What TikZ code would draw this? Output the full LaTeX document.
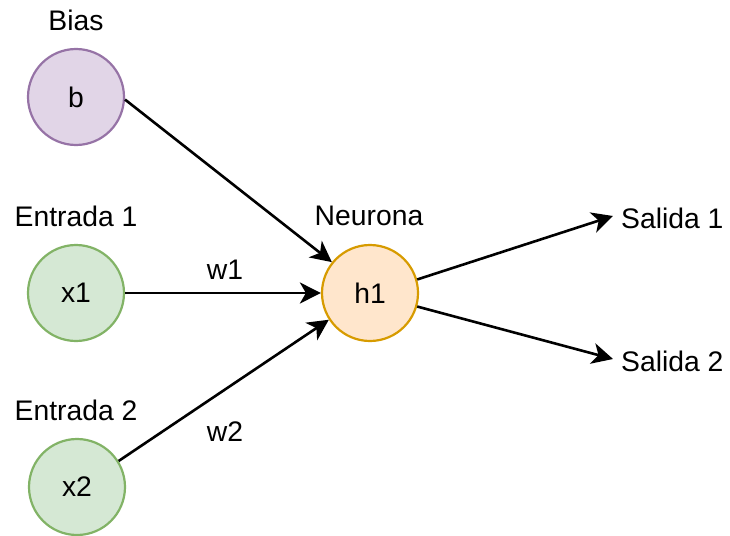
\documentclass[tikz,border=0pt]{standalone}
\usepackage{fontspec}
\setmainfont{Liberation Sans}
\usetikzlibrary{arrows.meta}
\definecolor{biasfill}{HTML}{E1D5E7}
\definecolor{biasline}{HTML}{9673A6}
\definecolor{infill}{HTML}{D5E8D4}
\definecolor{inline}{HTML}{82B366}
\definecolor{neufill}{HTML}{FFE6CC}
\definecolor{neuline}{HTML}{D79B00}
\begin{document}
\begin{tikzpicture}[x=1pt,y=-1pt,
  font=\fontsize{28.3}{33}\selectfont,
  unit/.style={circle,minimum size=96pt,inner sep=0pt,line width=2.2pt},
  biasunit/.style={unit,draw=biasline,fill=biasfill},
  inunit/.style={unit,draw=inline,fill=infill},
  neuunit/.style={unit,draw=neuline,fill=neufill},
  caption/.style={inner sep=0pt},
  link/.style={line width=2.6pt,-{Stealth[length=21pt,width=21pt,inset=6pt]}}]
\useasboundingbox (0,0) rectangle (730,535);

% units
\node[biasunit] (b)  at (76,97)  {b};
\node[inunit]   (x1) at (76,293) {x1};
\node[inunit]   (x2) at (77,487) {x2};
\node[neuunit]  (h1) at (370,293) {h1};

% captions above the units
\node[caption] (tb)  at (76,20)   {Bias};
\node[caption] (te1) at (76,216)  {Entrada 1};
\node[caption] (te2) at (76,410)  {Entrada 2};
\node[caption] (tn)  at (369,216) {Neurona};

% outputs
\node[caption,anchor=west] (s1) at (621,218) {Salida 1};
\node[caption,anchor=west] (s2) at (621,361) {Salida 2};

% weights
\node[caption] (w1) at (225,270) {w1};
\node[caption] (w2) at (225,432) {w2};

% connections
\draw[link] (b.-3) -- (h1.141);
\draw[link] (x1.east) -- (h1.west);
\draw[link] (x2.32) -- (h1.213);
\draw[link] (h1.16) -- ([xshift=-8pt,yshift=2pt]s1.west);
\draw[link] (h1.-16) -- ([xshift=-8pt,yshift=2pt]s2.west);
\end{tikzpicture}
\end{document}
